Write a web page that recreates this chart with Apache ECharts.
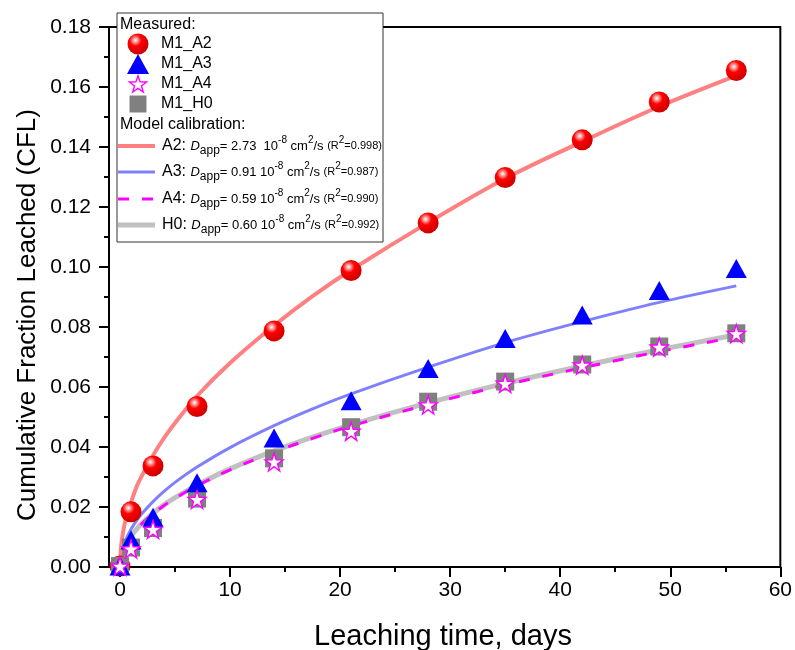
<!DOCTYPE html>
<html>
<head>
<meta charset="utf-8">
<script src="https://cdn.jsdelivr.net/npm/echarts@6/dist/echarts.min.js"></script>
<style>html,body{margin:0;padding:0;background:#fff}#c{width:795px;height:650px}</style>
</head>
<body>
<div id="c"></div>
<script>
// ---- data ----
const tMeas = [0, 1, 3, 7, 14, 21, 28, 35, 42, 49, 56];
const a2Meas = [0.0003, 0.0184, 0.0337, 0.0535, 0.0787, 0.0988, 0.1147, 0.1298, 0.1424, 0.1550, 0.1655];
const a3Meas = [0.0003, 0.0090, 0.0166, 0.0281, 0.0430, 0.0554, 0.0662, 0.0762, 0.0840, 0.0922, 0.0995];
const a4Meas = [0.0003, 0.0060, 0.0125, 0.0225, 0.0350, 0.0452, 0.0540, 0.0612, 0.0673, 0.0733, 0.0778];
const h0Meas = [0.0003, 0.0065, 0.0130, 0.0228, 0.0362, 0.0466, 0.0551, 0.0618, 0.0675, 0.0735, 0.0779];

const tModel = [0, 0.1, 0.25, 0.5, 1, 1.5, 2, 3, 4, 5, 7, 10, 14, 17.5, 21, 28, 35, 42, 49, 56];
const a2Model = [0, 0.0069, 0.0110, 0.0155, 0.0215, 0.0267, 0.0305, 0.0372, 0.0430, 0.0480, 0.0570, 0.0680, 0.0805, 0.0903, 0.0990, 0.1148, 0.1295, 0.1418, 0.1535, 0.1638];
const a3Model = [0, 0.0040, 0.0063, 0.0089, 0.0126, 0.0154, 0.0178, 0.0218, 0.0252, 0.0282, 0.0333, 0.0398, 0.0471, 0.0527, 0.0577, 0.0666, 0.0748, 0.0818, 0.0882, 0.0937];
const a4Model = [0, 0.0032, 0.0051, 0.0072, 0.0102, 0.0125, 0.0145, 0.0177, 0.0205, 0.0229, 0.0271, 0.0324, 0.0383, 0.0429, 0.0470, 0.0542, 0.0607, 0.0664, 0.0718, 0.0767];
const h0Model = [0, 0.0033, 0.0052, 0.0073, 0.0103, 0.0126, 0.0146, 0.0179, 0.0207, 0.0231, 0.0273, 0.0327, 0.0387, 0.0433, 0.0474, 0.0547, 0.0612, 0.0670, 0.0724, 0.0774];

const xMajor = [0, 10, 20, 30, 40, 50, 60];
const xMinor = [5, 15, 25, 35, 45, 55];
const measNames = ['M1_A2', 'M1_A3', 'M1_A4', 'M1_H0'];
const modelRows = [
  {lab: 'A2: ', d: '= 2.73  10', r: '=0.998)'},
  {lab: 'A3: ', d: '= 0.91 10', r: '=0.987)'},
  {lab: 'A4: ', d: '= 0.59 10', r: '=0.990)'},
  {lab: 'H0: ', d: '= 0.60 10', r: '=0.992)'}
];

// ---- styles ----
const FF = '"Liberation Sans", Arial, sans-serif';
const zip = (xs, ys) => xs.map((x, i) => [x, ys[i]]);
const ballFill = () => new echarts.graphic.RadialGradient(0.38, 0.32, 0.62, [
  {offset: 0, color: '#ffffff'},
  {offset: 0.18, color: '#ff9a9a'},
  {offset: 0.45, color: '#ff0000'},
  {offset: 1, color: '#d20000'}
]);
const STAR = 'path://M50,0 L61.8,35.5 L99,35.5 L69,57.5 L80.5,93 L50,71 L19.5,93 L31,57.5 L1,35.5 L38.2,35.5 Z';
const starPts = (cx, cy, R) => {
  const pts = [];
  for (let k = 0; k < 10; k++) {
    const r = k % 2 === 0 ? R : R * 0.4;
    const a = -Math.PI / 2 + k * Math.PI / 5;
    pts.push([cx + r * Math.cos(a), cy + r * Math.sin(a)]);
  }
  return pts;
};

const chart = echarts.init(document.getElementById('c'), null, {renderer: 'canvas'});

// legend graphics
const LX = 117, LY = 13, LW = 266, LH = 229;
const g = [];
g.push({type: 'rect', shape: {x: LX, y: LY, width: LW, height: LH}, style: {fill: '#fff', stroke: '#333', lineWidth: 1}, z: 100});
g.push({type: 'text', x: 120, y: 25, style: {text: 'Measured:', font: '16px ' + FF, fill: '#000', verticalAlign: 'middle'}, z: 101});
const rowY = [44, 64, 84, 104];
g.push({type: 'circle', shape: {cx: 138, cy: rowY[0], r: 10.5}, style: {fill: ballFill()}, z: 101});
g.push({type: 'polygon', shape: {points: [[138, rowY[1] - 10], [149, rowY[1] + 10], [127, rowY[1] + 10]]}, style: {fill: '#0000ff'}, z: 101});
g.push({type: 'polygon', shape: {points: starPts(138, rowY[2] + 0.8, 9)}, style: {fill: '#fff', stroke: '#ff00ff', lineWidth: 1.4}, z: 101});
g.push({type: 'rect', shape: {x: 129.5, y: rowY[3] - 8.5, width: 17, height: 17}, style: {fill: '#808080'}, z: 101});
measNames.forEach((n, i) => {
  g.push({type: 'text', x: 161, y: rowY[i], style: {text: n, font: '16px ' + FF, fill: '#000', verticalAlign: 'middle'}, z: 101});
});
g.push({type: 'text', x: 120, y: 125, style: {text: 'Model calibration:', font: '16px ' + FF, fill: '#000', verticalAlign: 'middle'}, z: 101});
const lineRowY = [146, 172, 199, 225];
const lineStyles = [
  {stroke: '#ff8080', lineWidth: 4},
  {stroke: '#8080ff', lineWidth: 3},
  {stroke: '#ff00ff', lineWidth: 3, lineDash: [11, 13]},
  {stroke: '#c0c0c0', lineWidth: 5}
];
const rich = {
  a: {fontSize: 16, fontFamily: FF, color: '#000', lineHeight: 22, verticalAlign: 'middle'},
  d: {fontSize: 13, fontFamily: FF, fontStyle: 'italic', color: '#000', lineHeight: 22, verticalAlign: 'middle'},
  sub: {fontSize: 12, fontFamily: FF, color: '#000', lineHeight: 12, verticalAlign: 'bottom'},
  n: {fontSize: 13, fontFamily: FF, color: '#000', lineHeight: 22, verticalAlign: 'middle'},
  sup: {fontSize: 10, fontFamily: FF, color: '#000', lineHeight: 11, verticalAlign: 'top'},
  s: {fontSize: 11, fontFamily: FF, color: '#000', lineHeight: 22, verticalAlign: 'middle'},
  sup2: {fontSize: 10, fontFamily: FF, color: '#000', lineHeight: 12, verticalAlign: 'top'}
};
modelRows.forEach((r, i) => {
  g.push({type: 'line', shape: {x1: 118, y1: lineRowY[i], x2: 155, y2: lineRowY[i]}, style: lineStyles[i], z: 101});
  const txt = '{a|' + r.lab + '}{d|D}{sub|app}{n|' + r.d + '}{sup|-8}{n| cm}{sup|2}{n|/s }{s|(R}{sup2|2}{s|' + r.r + '}';
  g.push({type: 'text', x: 162, y: lineRowY[i], style: {text: txt, rich: rich, verticalAlign: 'middle'}, z: 101});
});
// axis titles
g.push({type: 'text', x: 28, y: 315, rotation: Math.PI / 2, style: {text: 'Cumulative Fraction Leached (CFL)', font: '26px ' + FF, fill: '#000', align: 'center', verticalAlign: 'middle'}, z: 50});
g.push({type: 'text', x: 443, y: 637, style: {text: 'Leaching time, days', font: '29px ' + FF, fill: '#000', align: 'center', verticalAlign: 'middle'}, z: 50});

const lineCommon = {type: 'line', smooth: 0.35, symbol: 'none', clip: true};
const option = {
  backgroundColor: '#fff',
  animation: false,
  grid: {left: 109, right: 12, top: 27, bottom: 83, show: true, borderColor: '#000', borderWidth: 2, backgroundColor: '#fff'},
  xAxis: [
    {
      type: 'value', min: -1, max: 60,
      axisLine: {show: true, onZero: false, lineStyle: {color: '#000', width: 2}},
      axisTick: {show: true, inside: false, length: 10, customValues: xMajor, lineStyle: {color: '#000', width: 2}},
      axisLabel: {show: true, customValues: xMajor, margin: 13, color: '#000', fontSize: 21, fontFamily: FF},
      splitLine: {show: false}
    },
    {
      type: 'value', min: -1, max: 60, position: 'bottom',
      axisLine: {show: false},
      axisTick: {show: true, inside: false, length: 5, customValues: xMinor, lineStyle: {color: '#000', width: 2}},
      axisLabel: {show: false},
      splitLine: {show: false}
    }
  ],
  yAxis: {
    type: 'value', min: 0, max: 0.18, interval: 0.02,
    axisLine: {show: true, onZero: false, lineStyle: {color: '#000', width: 2}},
    axisTick: {show: true, inside: false, length: 10, lineStyle: {color: '#000', width: 2}},
    minorTick: {show: true, splitNumber: 2, length: 5, lineStyle: {color: '#000', width: 2}},
    axisLabel: {margin: 18, color: '#000', fontSize: 21, fontFamily: FF, formatter: v => v.toFixed(2)},
    splitLine: {show: false}
  },
  series: [
    Object.assign({}, lineCommon, {data: zip(tModel, h0Model), lineStyle: {color: '#c0c0c0', width: 5}, z: 2}),
    Object.assign({}, lineCommon, {data: zip(tModel, a4Model), lineStyle: {color: '#ff00ff', width: 3, type: [11, 13]}, z: 3}),
    Object.assign({}, lineCommon, {data: zip(tModel, a3Model), lineStyle: {color: '#8080ff', width: 3}, z: 3}),
    Object.assign({}, lineCommon, {data: zip(tModel, a2Model), lineStyle: {color: '#ff8080', width: 4}, z: 3}),
    {type: 'scatter', name: 'M1_A2', data: zip(tMeas, a2Meas), symbol: 'circle', symbolSize: 21, itemStyle: {color: ballFill(), opacity: 1}, z: 5},
    {type: 'scatter', name: 'M1_H0', data: zip(tMeas, h0Meas), symbol: 'rect', symbolSize: 18, itemStyle: {color: '#808080', opacity: 1}, z: 6},
    {type: 'scatter', name: 'M1_A3', data: zip(tMeas, a3Meas), symbol: 'triangle', symbolSize: [21, 19], itemStyle: {color: '#0000ff', opacity: 1}, z: 7},
    {type: 'scatter', name: 'M1_A4', data: zip(tMeas, a4Meas), symbol: STAR, symbolSize: 18, itemStyle: {color: '#ffffff', borderColor: '#ff00ff', borderWidth: 1.4, opacity: 1}, z: 8}
  ],
  graphic: g
};
chart.setOption(option);
</script>
</body>
</html>
